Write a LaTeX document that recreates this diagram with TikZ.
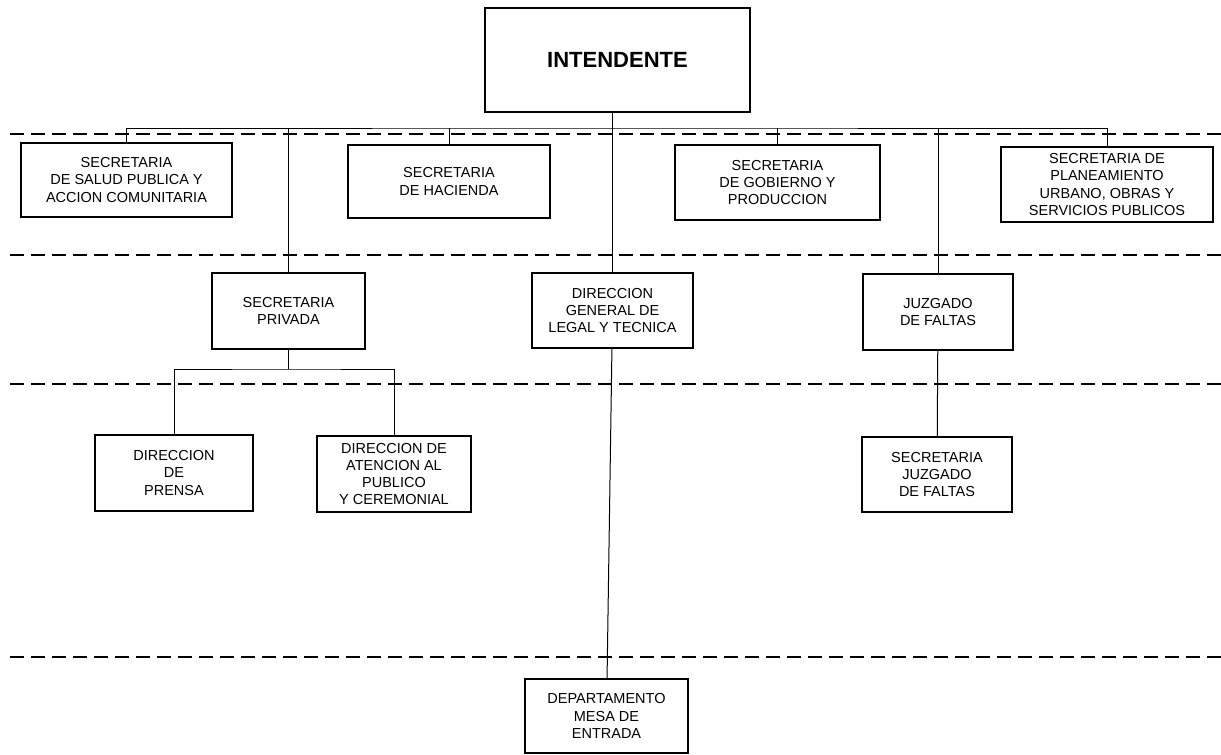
\documentclass[tikz,border=0pt]{standalone}
\usepackage{fontspec}
\setmainfont{Liberation Sans}
\usepackage{tikz}
\tikzstyle{unidad} = [draw, line width=1.5pt, align=center, inner sep=0pt, font=\fontsize{14.5}{17.2}\selectfont]
\tikzstyle{conector} = [line width=1pt]
\tikzstyle{nivel} = [line width=2pt, dash pattern=on 14pt off 7pt]

\begin{document}
\begin{tikzpicture}[x=1pt, y=-1pt]
        \useasboundingbox (0,0) rectangle (1221,755);

        % niveles
        \foreach \y in {134,255,384,657}
            \draw [nivel] (10,\y) -- (1221,\y);

        \node (intendente) [unidad, minimum width=265pt, minimum height=104pt, font=\fontsize{22}{26}\selectfont\bfseries] at (617.5,60) {INTENDENTE};

        \node (salud) [unidad, minimum width=211pt, minimum height=74pt] at (126.5,180) {SECRETARIA\\DE SALUD PUBLICA Y\\ACCION COMUNITARIA};
        \node (hacienda) [unidad, minimum width=202pt, minimum height=73pt] at (449,181.5) {SECRETARIA\\DE HACIENDA};
        \node (gobierno) [unidad, minimum width=205pt, minimum height=75pt] at (777.5,182.5) {SECRETARIA\\DE GOBIERNO Y\\PRODUCCION};
        \node (planeam) [unidad, minimum width=212pt, minimum height=75pt] at (1107,184.5) {SECRETARIA DE\\PLANEAMIENTO\\URBANO, OBRAS Y\\SERVICIOS PUBLICOS};

        \node (privada) [unidad, minimum width=153pt, minimum height=76pt] at (288.5,311) {SECRETARIA\\PRIVADA};
        \node (general) [unidad, minimum width=161pt, minimum height=75pt] at (612.5,310.5) {DIRECCION\\GENERAL DE\\LEGAL Y TECNICA};
        \node (juzgado) [unidad, minimum width=150pt, minimum height=76pt] at (938,312) {JUZGADO\\DE FALTAS};

        \node (prensa) [unidad, minimum width=158pt, minimum height=76pt] at (174,473) {DIRECCION\\DE\\PRENSA};
        \node (atencion) [unidad, minimum width=154pt, minimum height=76pt] at (394,474) {DIRECCION DE\\ATENCION AL\\PUBLICO\\Y CEREMONIAL};
        \node (secjuzgado) [unidad, minimum width=150pt, minimum height=75pt] at (937,474.5) {SECRETARIA\\JUZGADO\\DE FALTAS};

        \node (mesa) [unidad, minimum width=163pt, minimum height=74pt] at (606.5,716) {DEPARTAMENTO\\MESA DE\\ENTRADA};

        \coordinate (bus) at (613,128);
        \coordinate (sub) at (288.5,369);

        \draw [conector] (salud.north) |- (bus) -| (planeam.north);
        \draw [conector] (intendente.south -| general.north) -- (general.north);
        \foreach \n in {hacienda, gobierno, privada, juzgado}
            \draw [conector] (\n.north) -- (\n.north |- bus);
        \draw [conector] (privada.south) -- (sub);
        \draw [conector] (prensa.north) |- (sub) -| (atencion.north);
        \draw [conector] (general) -- (mesa);
        \draw [conector] (juzgado) -- (secjuzgado);

    \end{tikzpicture}
\end{document}
